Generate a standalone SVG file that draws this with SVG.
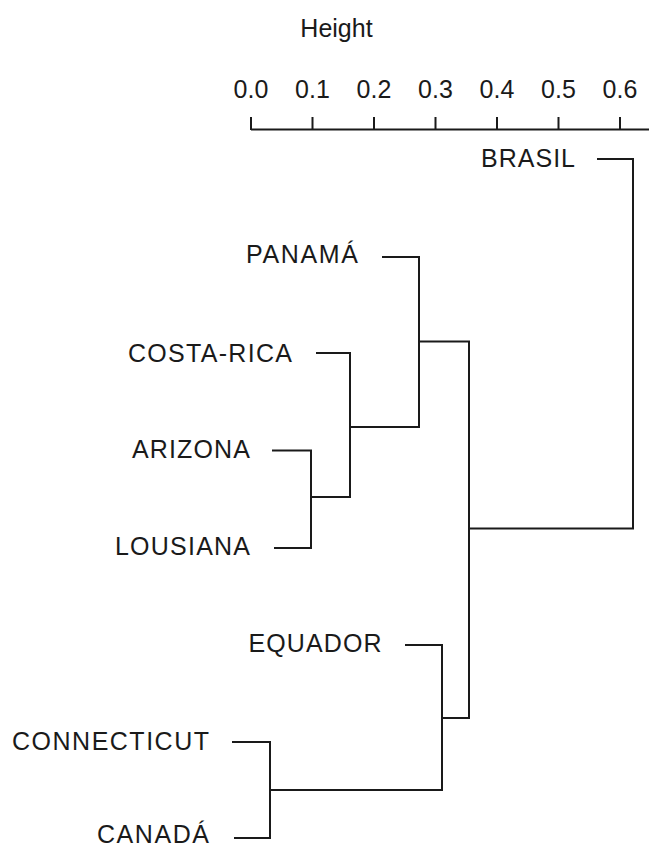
<svg xmlns="http://www.w3.org/2000/svg" width="649" height="848" viewBox="0 0 649 848">
<style>
text{font-family:"Liberation Sans",Arial,sans-serif;font-size:25px;fill:#1a1a1a}
.ax{text-anchor:middle}
.lb{text-anchor:end}
line,path{stroke:#1a1a1a;stroke-width:2;fill:none}
</style>
<rect width="649" height="848" fill="#fff"/>
<g id="axis">
<text class="ax" x="336.5" y="37">Height</text>
<text class="ax" x="251" y="98">0.0</text>
<text class="ax" x="312.5" y="98">0.1</text>
<text class="ax" x="374" y="98">0.2</text>
<text class="ax" x="435.5" y="98">0.3</text>
<text class="ax" x="497" y="98">0.4</text>
<text class="ax" x="558.5" y="98">0.5</text>
<text class="ax" x="620" y="98">0.6</text>
<path d="M251 129.5H649M251 117V130M312.5 117V130M374 117V130M435.5 117V130M497 117V130M558.5 117V130M620 117V130"/>
</g>
<g id="brasil"><text class="lb" x="575" y="166.5" textLength="94">BRASIL</text></g>
<g id="panama"><text class="lb" x="358" y="263" textLength="112">PANAMÁ</text></g>
<g id="costa-rica"><text class="lb" x="292" y="361.5" textLength="164">COSTA-RICA</text></g>
<g id="arizona"><text class="lb" x="250" y="457.5" textLength="118">ARIZONA</text></g>
<g id="lousiana"><text class="lb" x="250" y="555" textLength="135">LOUSIANA</text></g>
<g id="equador"><text class="lb" x="381.5" y="652" textLength="133">EQUADOR</text></g>
<g id="connecticut"><text class="lb" x="209" y="750" textLength="197">CONNECTICUT</text></g>
<g id="canada"><text class="lb" x="209" y="843" textLength="112">CANADÁ</text></g>
<g id="connectors">
<path d="M597 159H633V528.5H469"/>
<path d="M382 257H419V427H350"/>
<path d="M316 353H350V497H311"/>
<path d="M272 450.5H311V548H274"/>
<path d="M419 341.5H469V718H442"/>
<path d="M405 645H442V790H270"/>
<path d="M232 742H270V838H234"/>
</g>
</svg>
